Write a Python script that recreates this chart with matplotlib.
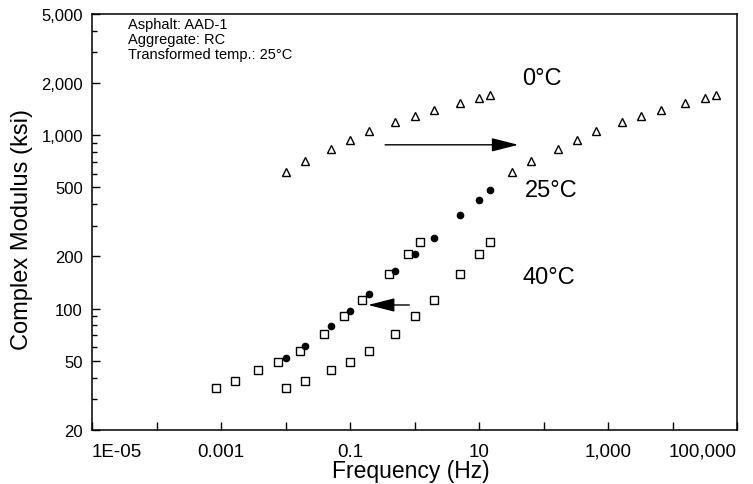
import matplotlib
matplotlib.use("Agg")
import matplotlib.pyplot as plt
from matplotlib.ticker import FixedLocator, NullFormatter

plt.rcParams["font.family"] = ["Liberation Sans", "DejaVu Sans"]

# --- data -----------------------------------------------------------------
freq_test = [0.01, 0.02, 0.05, 0.1, 0.2, 0.5, 1, 2, 5, 10, 15]
mod_0c = [615, 706, 832, 940, 1052, 1185, 1294, 1395, 1525, 1636, 1710]
mod_25c = [52, 61, 79, 97, 121, 164, 205, 254, 348, 424, 484]
mod_40c = [35, 38, 44, 49, 57, 71, 90, 112, 159, 205, 243]

# reduced frequencies after shifting to 25 C
freq_0c_shift = [32, 65, 165, 328, 652, 1660, 3300, 6570, 15700, 31700, 48000]
freq_40c_shift = [0.00083, 0.00163, 0.0037, 0.0077, 0.017, 0.040, 0.080,
                  0.152, 0.40, 0.79, 1.2]

x_ticks = [1e-5, 1e-4, 1e-3, 1e-2, 1e-1, 1, 10, 1e2, 1e3, 1e4, 1e5]
x_labels = ["1E-05", "", "0.001", "", "0.1", "", "10", "", "1,000", "", "100,000"]
y_ticks = [20, 50, 100, 200, 500, 1000, 2000, 5000]
y_labels = ["20", "50", "100", "200", "500", "1,000", "2,000", "5,000"]
y_minor = [30, 40, 60, 70, 80, 90, 300, 400, 600, 700, 800, 900,
           3000, 4000]

notes = ["Asphalt: AAD-1", "Aggregate: RC", "Transformed temp.: 25\u00b0C"]
temps = [("0\u00b0C", 46, 1971), ("25\u00b0C", 51.6, 447), ("40\u00b0C", 48, 140)]

# --- figure ----------------------------------------------------------------
fig = plt.figure(figsize=(7.53, 4.85), dpi=100)
ax = fig.add_axes([0.1222, 0.112, 0.8566, 0.857])
ax.set_xscale("log")
ax.set_yscale("log")
ax.set_xlim(1e-5, 1e5)
ax.set_ylim(20, 5000)

open_kw = dict(linestyle="none", markerfacecolor="none", markeredgecolor="black",
               markeredgewidth=1.0)
ax.plot(freq_test, mod_0c, marker="^", markersize=6, **open_kw)
ax.plot(freq_0c_shift, mod_0c, marker="^", markersize=6, **open_kw)
ax.plot(freq_test, mod_40c, marker="s", markersize=6, **open_kw)
ax.plot(freq_40c_shift, mod_40c, marker="s", markersize=6, **open_kw)
ax.plot(freq_test, mod_25c, linestyle="none", marker="o", markersize=4.5,
        color="black")

arrow = dict(arrowstyle="-|>,head_length=1.65,head_width=0.42",
             color="black", lw=1.0, shrinkA=0, shrinkB=0)
ax.annotate("", xy=(40.6, 880), xytext=(0.35, 880), arrowprops=arrow)
ax.annotate("", xy=(0.19, 104.8), xytext=(0.83, 104.8), arrowprops=arrow)

for label, fx, my in temps:
    ax.text(fx, my, label, fontsize=17, ha="left", va="baseline")

for i, line in enumerate(notes):
    ax.text(0.0558, 0.9656 - 0.0361 * i, line, fontsize=10.5,
            transform=ax.transAxes, ha="left", va="baseline")

# axes styling
ax.xaxis.set_major_locator(FixedLocator(x_ticks))
ax.set_xticklabels(x_labels)
ax.xaxis.set_minor_formatter(NullFormatter())
ax.xaxis.set_minor_locator(FixedLocator([]))
ax.yaxis.set_major_locator(FixedLocator(y_ticks))
ax.set_yticklabels(y_labels)
ax.yaxis.set_minor_locator(FixedLocator(y_minor))
ax.yaxis.set_minor_formatter(NullFormatter())

ax.tick_params(axis="both", which="both", direction="in", top=False, right=False,
               width=1.0)
ax.tick_params(axis="x", which="major", length=6, pad=9.5, labelsize=13.5)
ax.tick_params(axis="y", which="major", length=6, pad=6.5, labelsize=12)
ax.tick_params(axis="y", which="minor", length=3.5)

xl = ax.get_xticklabels()
xl[0].set_horizontalalignment("left")
xl[-1].set_horizontalalignment("right")

for s in ax.spines.values():
    s.set_linewidth(1.1)

ax.set_xlabel("Frequency (Hz)", fontsize=16.5)
ax.xaxis.set_label_coords(0.495, -0.07)
ax.set_ylabel("Complex Modulus (ksi)", fontsize=17)
ax.yaxis.set_label_coords(-0.092, 0.484)

fig.savefig("out.png", dpi=100)
